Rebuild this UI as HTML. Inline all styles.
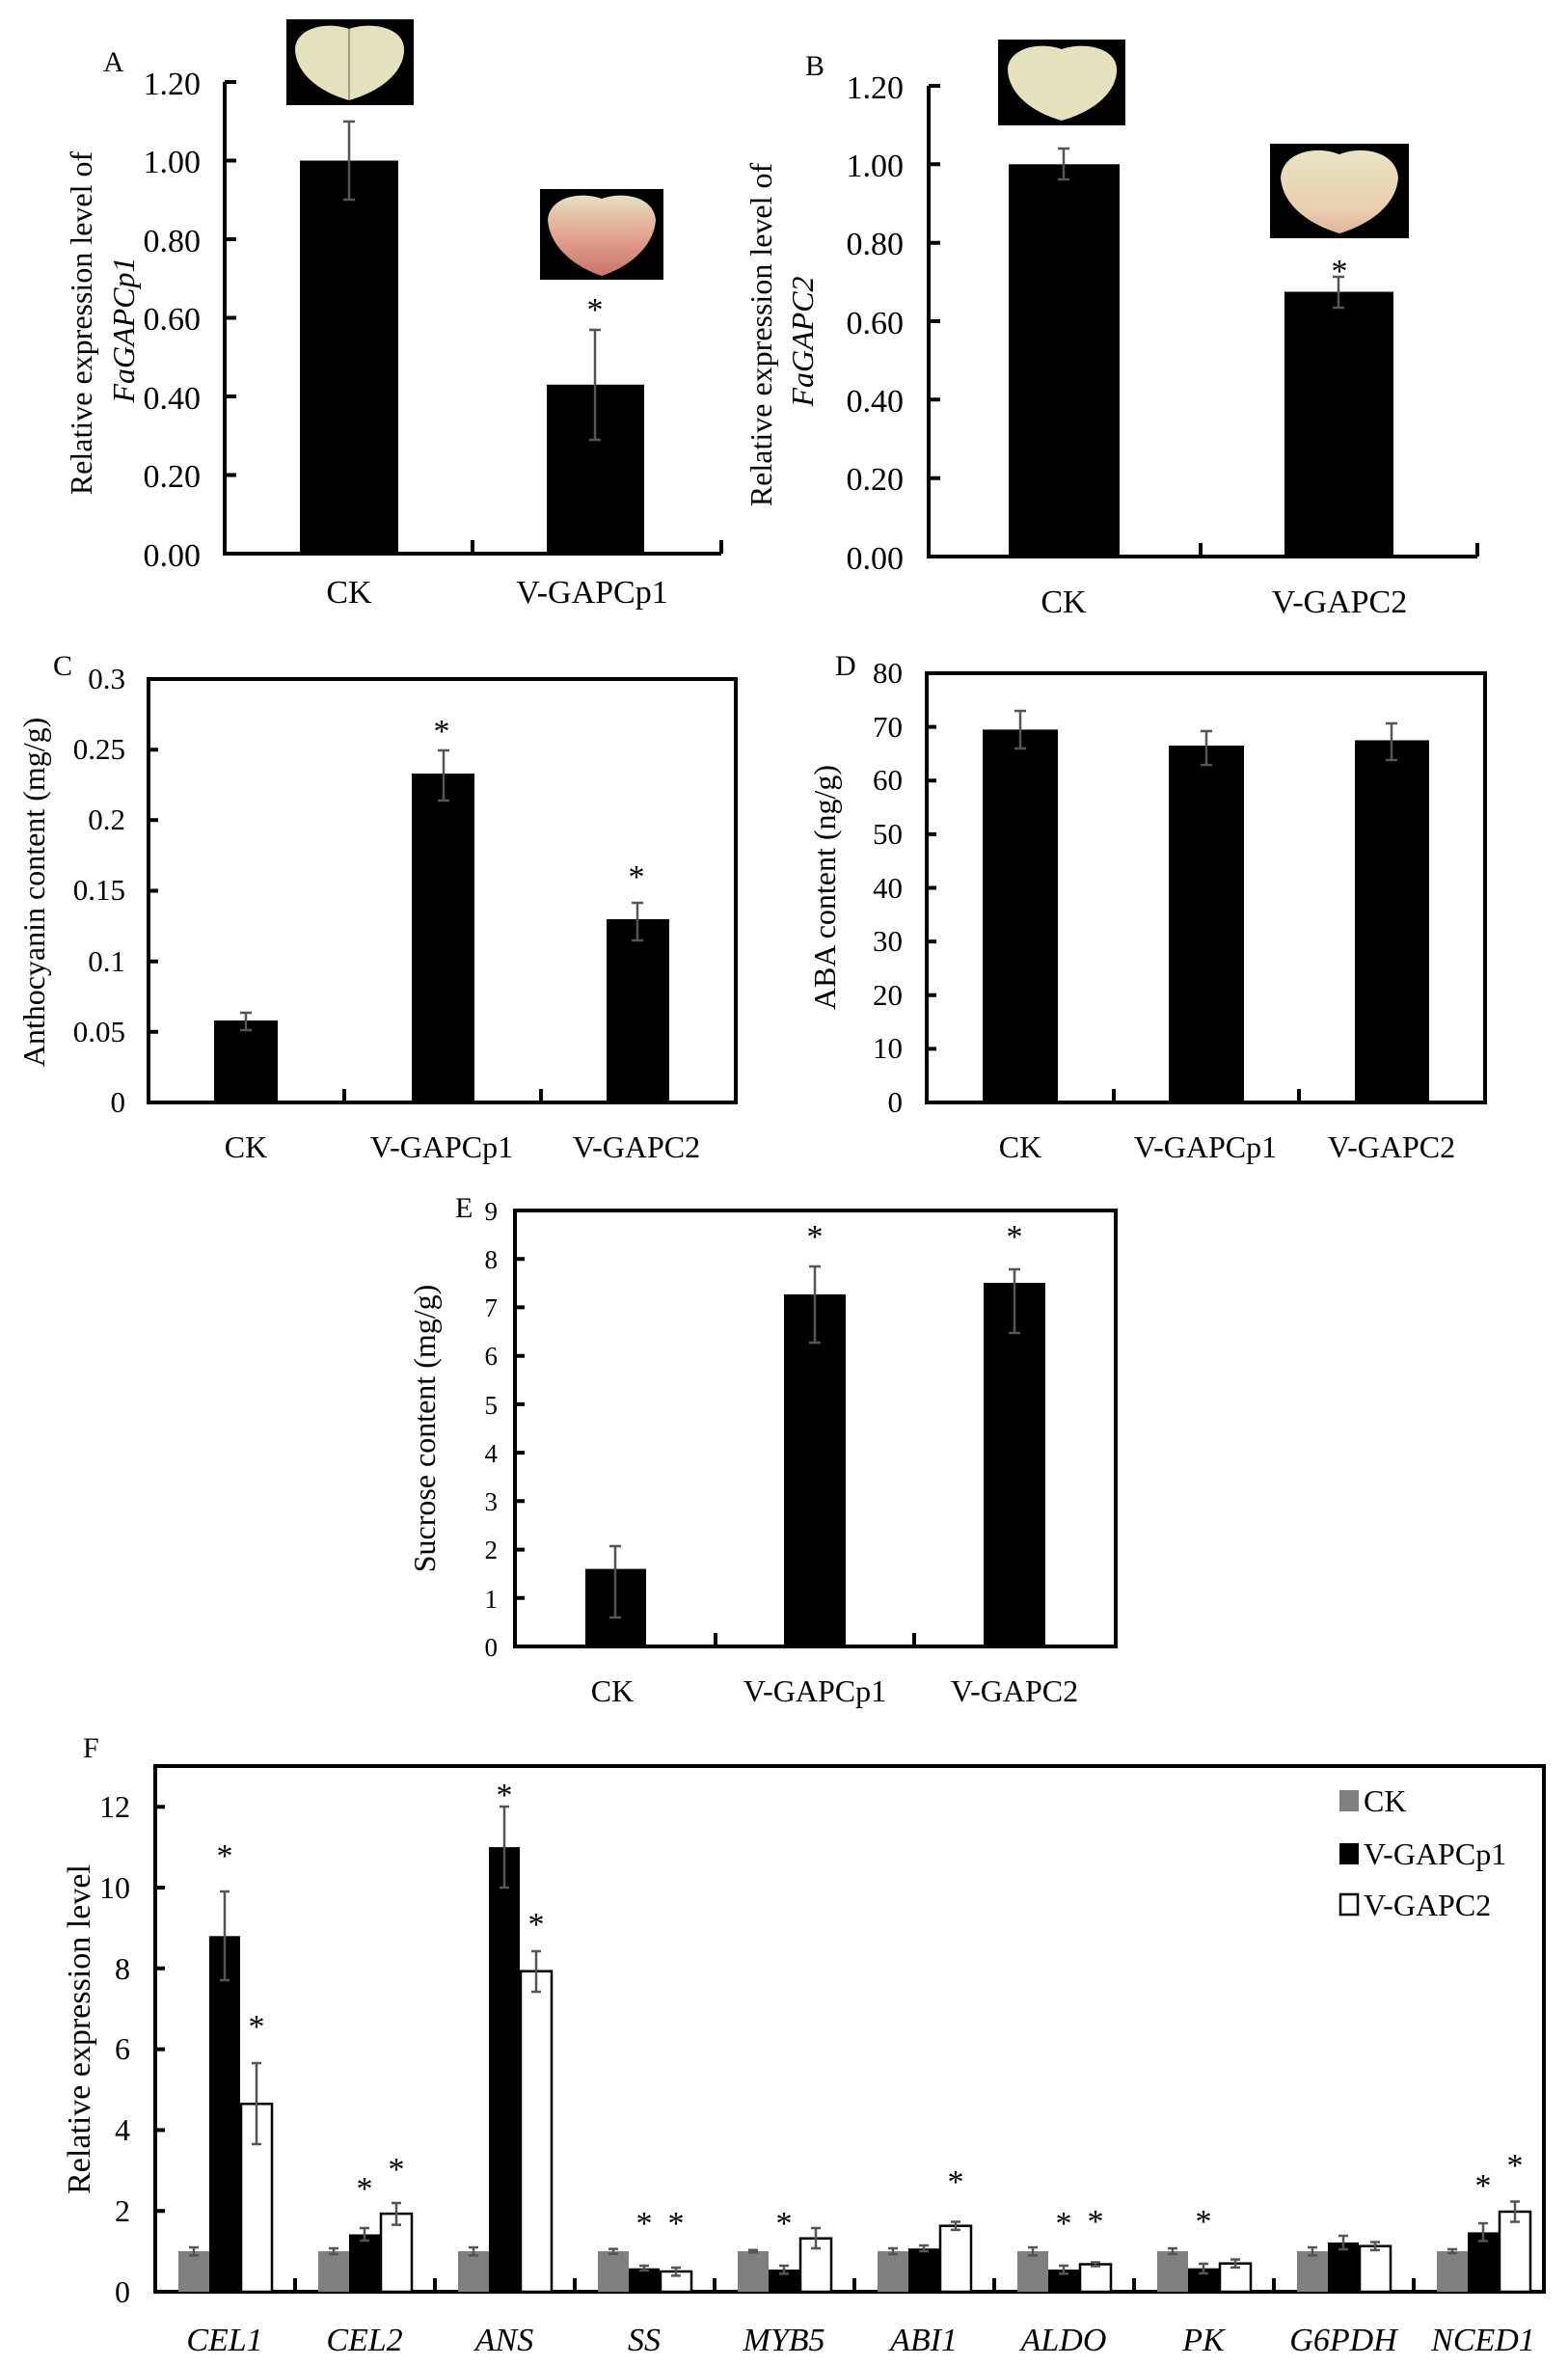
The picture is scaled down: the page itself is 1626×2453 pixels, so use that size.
<!DOCTYPE html>
<html><head><meta charset="utf-8"><style>
html,body{margin:0;padding:0;background:#fff}
svg{display:block}
text{font-family:"Liberation Serif",serif;fill:#000}
.s{font-family:"Liberation Sans",sans-serif}
.e{stroke:#555;stroke-width:2.5;fill:none}
</style></head><body>
<svg width="1626" height="2453" viewBox="0 0 1626 2453" xmlns="http://www.w3.org/2000/svg">
<!-- ===== A ===== -->
<text x="107" y="74" font-size="30">A</text>
<g stroke="#000" stroke-width="4" fill="none">
<path d="M233 85V574H748M233 85h12M233 166.5h12M233 248h12M233 329.5h12M233 411h12M233 492.5h12M490 574v-14M748 574v-14"/>
</g>
<g font-size="34" text-anchor="end">
<text x="208" y="98">1.20</text><text x="208" y="179">1.00</text><text x="208" y="261">0.80</text><text x="208" y="342">0.60</text><text x="208" y="424">0.40</text><text x="208" y="505">0.20</text><text x="208" y="587">0.00</text>
</g>
<rect x="311" y="166.5" width="102" height="407.5"/>
<rect x="567" y="398.8" width="101" height="175.2"/>
<path class="e" d="M362 126v81M356 126h12M356 207h12M617 342v114M611 342h12M611 456h12"/>
<text x="617" y="332" font-size="34" text-anchor="middle">*</text>
<text x="362" y="625" font-size="34" text-anchor="middle">CK</text>
<text x="614" y="625" font-size="34" text-anchor="middle">V-GAPCp1</text>
<text transform="translate(95,335) rotate(-90)" font-size="32" text-anchor="middle">Relative expression level of</text>
<text transform="translate(139,342) rotate(-90)" font-size="32" text-anchor="middle" font-style="italic">FaGAPCp1</text>
<rect x="297" y="20" width="132" height="89" fill="#000"/>
<path d="M362 30 C340 22 308 28 306 50 C306 75 330 95 362 104 C394 95 420 75 419 50 C418 28 384 22 362 30Z" fill="#e3e2bd"/>
<path d="M362 30V104" stroke="#8a8a6a" stroke-width="1.5"/>
<rect x="560" y="196" width="128" height="94" fill="#000"/>
<defs><linearGradient id="pk" x1="0" y1="0" x2="0" y2="1"><stop offset="0" stop-color="#e8e0c0"/><stop offset="0.5" stop-color="#e2a48e"/><stop offset="1" stop-color="#c9746a"/></linearGradient>
<linearGradient id="pk2" x1="0" y1="0" x2="0" y2="1"><stop offset="0" stop-color="#e8e4c2"/><stop offset="0.7" stop-color="#e9cfae"/><stop offset="1" stop-color="#e2b49c"/></linearGradient></defs>
<path d="M624 206 C602 198 570 204 568 228 C570 255 594 276 624 286 C654 276 678 255 680 228 C678 204 646 198 624 206Z" fill="url(#pk)"/>
<!-- ===== B ===== -->
<text x="835" y="78" font-size="30">B</text>
<g stroke="#000" stroke-width="4" fill="none">
<path d="M963 89V577H1532M963 89h12M963 170.3h12M963 251.7h12M963 333h12M963 414.3h12M963 495.7h12M1245 577v-14M1532 577v-14"/>
</g>
<g font-size="34" text-anchor="end">
<text x="937" y="102">1.20</text><text x="937" y="183">1.00</text><text x="937" y="264">0.80</text><text x="937" y="346">0.60</text><text x="937" y="427">0.40</text><text x="937" y="508">0.20</text><text x="937" y="590">0.00</text>
</g>
<rect x="1046" y="170.3" width="115" height="406.7"/>
<rect x="1332" y="302.5" width="113" height="274.5"/>
<path class="e" d="M1103 154v32M1097 154h12M1097 186h12M1388 287v32M1382 287h12M1382 319h12"/>
<text x="1389" y="292" font-size="34" text-anchor="middle">*</text>
<text x="1103" y="635" font-size="34" text-anchor="middle">CK</text>
<text x="1389" y="635" font-size="34" text-anchor="middle">V-GAPC2</text>
<text transform="translate(800,347) rotate(-90)" font-size="32" text-anchor="middle">Relative expression level of</text>
<text transform="translate(843,354) rotate(-90)" font-size="32" text-anchor="middle" font-style="italic">FaGAPC2</text>
<rect x="1035" y="41" width="132" height="89" fill="#000"/>
<path d="M1101 51 C1079 43 1047 49 1045 71 C1045 96 1069 116 1101 125 C1133 116 1159 96 1158 71 C1157 49 1123 43 1101 51Z" fill="#e3e2bd"/>
<rect x="1317" y="149" width="144" height="98" fill="#000"/>
<path d="M1389 160 C1364 150 1330 158 1328 184 C1330 212 1356 232 1389 242 C1422 232 1448 212 1450 184 C1448 158 1414 150 1389 160Z" fill="url(#pk2)"/>
<!-- ===== C ===== -->
<text x="55" y="700" font-size="30">C</text>
<rect x="154" y="704" width="609" height="439" fill="none" stroke="#000" stroke-width="4"/>
<path d="M154 777.2h10M154 850.3h10M154 923.5h10M154 996.7h10M154 1069.8h10M357 1143v-14M561 1143v-14" stroke="#000" stroke-width="4"/>
<g font-size="31" text-anchor="end">
<text x="130" y="714">0.3</text><text x="130" y="787">0.25</text><text x="130" y="860">0.2</text><text x="130" y="933">0.15</text><text x="130" y="1007">0.1</text><text x="130" y="1080">0.05</text><text x="130" y="1153">0</text>
</g>
<rect x="222" y="1058" width="66" height="85"/>
<rect x="427" y="802" width="65" height="341"/>
<rect x="629" y="953" width="65" height="190"/>
<path class="e" d="M255 1050v18M249 1050h12M249 1068h12M460 778v52M454 778h12M454 830h12M661 936v39M655 936h12M655 975h12"/>
<text x="458" y="769" font-size="34" text-anchor="middle">*</text>
<text x="660" y="920" font-size="34" text-anchor="middle">*</text>
<g font-size="32" text-anchor="middle"><text x="255" y="1200">CK</text><text x="458" y="1200">V-GAPCp1</text><text x="660" y="1200">V-GAPC2</text></g>
<text transform="translate(46,925) rotate(-90)" font-size="32" text-anchor="middle">Anthocyanin content (mg/g)</text>
<!-- ===== D ===== -->
<text x="866" y="700" font-size="30">D</text>
<rect x="961" y="698" width="579" height="445" fill="none" stroke="#000" stroke-width="4"/>
<path d="M961 753.6h10M961 809.3h10M961 864.9h10M961 920.5h10M961 976.1h10M961 1031.8h10M961 1087.4h10M1155 1143v-14M1347 1143v-14" stroke="#000" stroke-width="4"/>
<g font-size="31" text-anchor="end">
<text x="936" y="708">80</text><text x="936" y="764">70</text><text x="936" y="819">60</text><text x="936" y="875">50</text><text x="936" y="931">40</text><text x="936" y="986">30</text><text x="936" y="1042">20</text><text x="936" y="1097">10</text><text x="936" y="1153">0</text>
</g>
<rect x="1019" y="756.4" width="78" height="386.6"/>
<rect x="1212" y="773" width="78" height="370"/>
<rect x="1405" y="767.5" width="77" height="375.5"/>
<path class="e" d="M1058 737v39M1052 737h12M1052 776h12M1251 758v35M1245 758h12M1245 793h12M1443 750v38M1437 750h12M1437 788h12"/>
<g font-size="32" text-anchor="middle"><text x="1058" y="1200">CK</text><text x="1250" y="1200">V-GAPCp1</text><text x="1443" y="1200">V-GAPC2</text></g>
<text transform="translate(866,920) rotate(-90)" font-size="32" text-anchor="middle">ABA content (ng/g)</text>
<!-- ===== E ===== -->
<text x="472" y="1262" font-size="30">E</text>
<rect x="534" y="1255" width="623" height="452" fill="none" stroke="#000" stroke-width="4"/>
<path d="M534 1305.2h10M534 1355.4h10M534 1405.7h10M534 1455.9h10M534 1506.1h10M534 1556.3h10M534 1606.6h10M534 1656.8h10M742 1707v-14M948 1707v-14" stroke="#000" stroke-width="4"/>
<g class="s" font-size="27" text-anchor="end">
<text x="516" y="1265">9</text><text x="516" y="1315">8</text><text x="516" y="1365">7</text><text x="516" y="1415">6</text><text x="516" y="1466">5</text><text x="516" y="1516">4</text><text x="516" y="1566">3</text><text x="516" y="1616">2</text><text x="516" y="1667">1</text><text x="516" y="1717">0</text>
</g>
<rect x="607" y="1626.6" width="63" height="80.4"/>
<rect x="813" y="1342" width="64" height="365"/>
<rect x="1020" y="1330" width="64" height="377"/>
<path class="e" d="M638 1603v74M632 1603h12M632 1677h12M845 1313v79M839 1313h12M839 1392h12M1052 1316v66M1046 1316h12M1046 1382h12"/>
<text x="845" y="1293" font-size="34" text-anchor="middle">*</text>
<text x="1052" y="1293" font-size="34" text-anchor="middle">*</text>
<g font-size="32" text-anchor="middle"><text x="635" y="1764">CK</text><text x="845" y="1764">V-GAPCp1</text><text x="1052" y="1764">V-GAPC2</text></g>
<text transform="translate(451,1481) rotate(-90)" font-size="32" text-anchor="middle">Sucrose content (mg/g)</text>
<!-- ===== F ===== -->
<text x="86" y="1822" font-size="30">F</text>
<rect x="161" y="1831" width="1440" height="545" fill="none" stroke="#000" stroke-width="4"/>
<path d="M161 2292.2h10M161 2208.4h10M161 2124.6h10M161 2040.8h10M161 1957h10M161 1873.2h10M306 2376v-14M451 2376v-14M596 2376v-14M741 2376v-14M886 2376v-14M1031 2376v-14M1176 2376v-14M1321 2376v-14M1466 2376v-14" stroke="#000" stroke-width="4"/>
<g font-size="32" text-anchor="end">
<text x="135" y="1884">12</text><text x="135" y="1968">10</text><text x="135" y="2052">8</text><text x="135" y="2135">6</text><text x="135" y="2219">4</text><text x="135" y="2303">2</text><text x="135" y="2387">0</text>
</g>
<g fill="#808080">
<rect x="185" y="2334" width="32" height="42"/><rect x="330" y="2334" width="32" height="42"/><rect x="475" y="2334" width="32" height="42"/><rect x="620" y="2334" width="32" height="42"/><rect x="765" y="2334" width="32" height="42"/><rect x="910" y="2334" width="32" height="42"/><rect x="1055" y="2334" width="32" height="42"/><rect x="1200" y="2334" width="32" height="42"/><rect x="1345" y="2334" width="32" height="42"/><rect x="1490" y="2334" width="32" height="42"/>
</g>
<g fill="#000">
<rect x="217" y="2007.3" width="32" height="368.7"/><rect x="362" y="2316.5" width="32" height="59.5"/><rect x="507" y="1915.1" width="32" height="460.9"/><rect x="652" y="2351.7" width="32" height="24.3"/><rect x="797" y="2353" width="32" height="23"/><rect x="942" y="2331.2" width="32" height="44.8"/><rect x="1087" y="2353" width="32" height="23"/><rect x="1232" y="2351.7" width="32" height="24.3"/><rect x="1377" y="2324.9" width="32" height="51.1"/><rect x="1522" y="2314.4" width="32" height="61.6"/>
</g>
<g fill="#fff" stroke="#000" stroke-width="2.5">
<rect x="250" y="2181.2" width="32" height="194.8"/><rect x="395" y="2295.1" width="32" height="80.9"/><rect x="540" y="2043.7" width="32" height="332.3"/><rect x="685" y="2355" width="32" height="21"/><rect x="830" y="2320.7" width="32" height="55.3"/><rect x="975" y="2307.7" width="32" height="68.3"/><rect x="1120" y="2347.5" width="32" height="28.5"/><rect x="1265" y="2346.7" width="32" height="29.3"/><rect x="1410" y="2328.7" width="32" height="47.3"/><rect x="1555" y="2293" width="32" height="83"/>
</g>
<path class="e" d="
M201 2330v8.4M346 2331v6M491 2330v8.4M636 2331.6v5M781 2332.8v2.6M926 2331v6M1071 2330v8.4M1216 2331v6M1361 2330v8.4M1506 2332v4
M233 1961v92M378 2310v13M523 1873v84M668 2349v5M813 2349v8.4M958 2328v6M1103 2349v8.4M1248 2347v10M1393 2318v14M1538 2305v18.4
M266 2139v84M411 2284v22.6M556 2023v42M701 2351v8.4M846 2310v21M991 2303.5v8.4M1136 2345.5v4M1281 2342.5v8.4M1426 2324.5v8.4M1571 2282.5v21"/>
<g class="e" stroke-width="2">
<path d="M196 2330h10M196 2338.4h10M341 2331h10M341 2337h10M486 2330h10M486 2338.4h10M631 2331.6h10M631 2336.6h10M776 2332.8h10M776 2335.4h10M921 2331h10M921 2337h10M1066 2330h10M1066 2338.4h10M1211 2331h10M1211 2337h10M1356 2330h10M1356 2338.4h10M1501 2332h10M1501 2336h10"/>
<path d="M228 1961h10M228 2053h10M373 2310h10M373 2323h10M518 1873h10M518 1957h10M663 2349h10M663 2354h10M808 2349h10M808 2357.4h10M953 2328h10M953 2334h10M1098 2349h10M1098 2357.4h10M1243 2347h10M1243 2357h10M1388 2318h10M1388 2332h10M1533 2305h10M1533 2323.4h10"/>
<path d="M261 2139h10M261 2223h10M406 2284h10M406 2306.6h10M551 2023h10M551 2065h10M696 2351h10M696 2359.4h10M841 2310h10M841 2331h10M986 2303.5h10M986 2311.9h10M1131 2345.5h10M1131 2349.5h10M1276 2342.5h10M1276 2350.9h10M1421 2324.5h10M1421 2332.9h10M1566 2282.5h10M1566 2303.5h10"/>
</g>
<g font-size="34" text-anchor="middle" fill="#333">
<text x="233" y="1935">*</text><text x="266" y="2112">*</text>
<text x="378" y="2280">*</text><text x="411" y="2260">*</text>
<text x="523" y="1872">*</text><text x="556" y="2006">*</text>
<text x="668" y="2316">*</text><text x="701" y="2316">*</text>
<text x="813" y="2316">*</text>
<text x="991" y="2273">*</text>
<text x="1103" y="2316">*</text><text x="1136" y="2314">*</text>
<text x="1248" y="2314">*</text>
<text x="1538" y="2277">*</text><text x="1571" y="2256">*</text>
</g>
<rect x="1389" y="1856" width="20" height="22" fill="#808080"/>
<rect x="1389" y="1911" width="20" height="22" fill="#000"/>
<rect x="1390" y="1964" width="18" height="21" fill="#fff" stroke="#000" stroke-width="2.5"/>
<g font-size="32"><text x="1414" y="1878" fill="#555">CK</text><text x="1414" y="1933" fill="#555">V-GAPCp1</text><text x="1414" y="1986" fill="#555">V-GAPC2</text></g>
<g font-size="34" font-style="italic" text-anchor="middle">
<text x="233" y="2437">CEL1</text><text x="378" y="2437">CEL2</text><text x="523" y="2437">ANS</text><text x="668" y="2437">SS</text><text x="813" y="2437">MYB5</text><text x="958" y="2437">ABI1</text><text x="1103" y="2437">ALDO</text><text x="1248" y="2437">PK</text><text x="1393" y="2437">G6PDH</text><text x="1538" y="2437">NCED1</text>
</g>
<text transform="translate(93,2104) rotate(-90)" font-size="34" text-anchor="middle">Relative expression level</text>
</svg>
</body></html>
